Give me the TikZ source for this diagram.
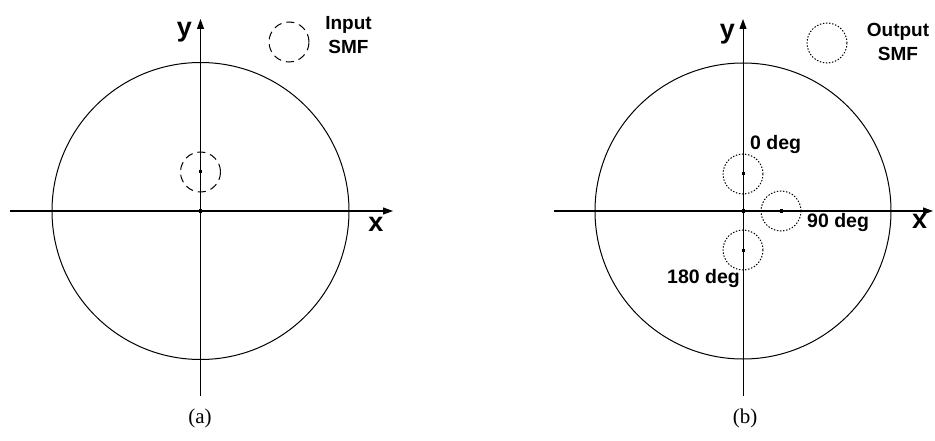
\documentclass[tikz,border=0pt]{standalone}
\usepackage{fontspec}
\setmainfont{Liberation Sans}
\newfontfamily\capfont{Liberation Serif}
\usetikzlibrary{arrows.meta}
\tikzset{
  axis/.style={line width=1pt,-{Triangle[length=10pt,width=7pt]}},
  big/.style={line width=1pt},
  fiberin/.style={line width=1pt,dash pattern=on 8pt off 5pt},
  fiberout/.style={line width=1pt,dash pattern=on 1.4pt off 1.7pt},
  lbl/.style={font=\bfseries\fontsize{19.5}{22}\selectfont,inner sep=0pt},
  axlbl/.style={font=\bfseries\fontsize{27}{29}\selectfont,inner sep=0pt},
  leg/.style={font=\bfseries\fontsize{19}{24}\selectfont,inner sep=0pt,align=center},
  captxt/.style={font=\capfont\fontsize{21}{23}\selectfont,inner sep=0pt},
  dot/.style={fill,minimum size=3pt,inner sep=0pt},
}
\begin{document}
\begin{tikzpicture}[x=1pt,y=-1pt]
\useasboundingbox (0,0) rectangle (935,441);
% ---------- (a) ----------
\coordinate (aO) at (200.5,211);
\coordinate (aXs) at (10,211);
\coordinate (aXe) at (393,211);
\coordinate (aYs) at (200.5,396);
\coordinate (aYe) at (200.5,19);
\draw[big] (aO) circle[radius=148.5];
\draw[axis] (aXs) -- (aXe);
\draw[axis] (aYs) -- (aYe);
\node[dot] (ao) at (aO) {};
\node[dot] (ac) at (200.5,172) {};
\draw[fiberin] (ac) circle[radius=20];
\node[axlbl] (ay) at (184.5,32.5) {y};
\node[axlbl] (ax) at (376,224) {x};
\node[circle,draw,fiberin,minimum size=40pt,inner sep=0pt] (aleg) at (289,42) {};
\node[leg] (alegt) at (348.5,35) {Input\\SMF};
\node[captxt] (capa) at (200,418) {(a)};
% ---------- (b) ----------
\coordinate (bO) at (743,211);
\coordinate (bXs) at (554,211);
\coordinate (bXe) at (933,211);
\coordinate (bYs) at (743,396);
\coordinate (bYe) at (743,19);
\draw[big] (bO) circle[radius=148];
\draw[axis] (bXs) -- (bXe);
\draw[axis] (bYs) -- (bYe);
\node[dot] (bo) at (bO) {};
\node[dot] (b0) at (743,174) {};
\node[dot] (b90) at (781,211) {};
\node[dot] (b180) at (743,250) {};
\draw[fiberout] (b0) circle[radius=20];
\draw[fiberout] (b90) circle[radius=20];
\draw[fiberout] (b180) circle[radius=20];
\node[lbl,anchor=west] (l0) at (750,145) {0 deg};
\node[lbl,anchor=west] (l90) at (807,223) {90 deg};
\node[lbl,anchor=east] (l180) at (740,279) {180 deg};
\node[axlbl] (by) at (727.5,34) {y};
\node[axlbl] (bx) at (919.5,221) {x};
\node[circle,draw,fiberout,minimum size=40pt,inner sep=0pt] (bleg) at (827,43) {};
\node[leg] (blegt) at (898,42) {Output\\SMF};
\node[captxt] (capb) at (745,418) {(b)};
\end{tikzpicture}
\end{document}
